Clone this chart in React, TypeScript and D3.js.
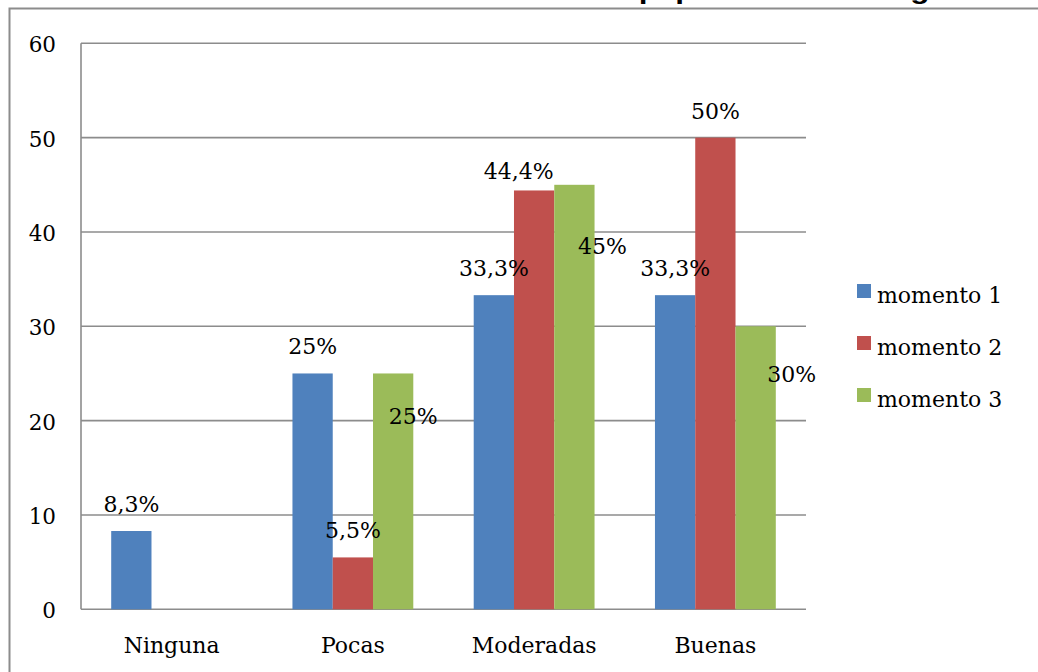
import React from "react";
import * as d3 from "d3";

const categories = ["Ninguna", "Pocas", "Moderadas", "Buenas"];
const seriesNames = ["momento 1", "momento 2", "momento 3"];
const momento1 = [8.3, 25, 33.3, 33.3];
const momento2 = [0, 5.5, 44.4, 50];
const momento3 = [0, 25, 45, 30];
const yTicks = [0, 10, 20, 30, 40, 50, 60];
const titleText = "Gráfica 3. Calidad Sentimientos del Equipo de Casa Amiga";

const seriesValues = [momento1, momento2, momento3];
const colors = ["#4F81BD", "#C0504D", "#9BBB59"];
// manual label nudges [dx, dy] per series / category (as placed in the original)
const labelNudges = [
  [[0, 0], [0, 0], [0, 0], [0, 0]],
  [[0, 0], [0, 0], [-15.5, 8], [0, 0]],
  [[0, 0], [20, 70], [28, 88], [36, 75]],
];

const W = 1038;
const H = 672;
const plot = { left: 81, right: 806, top: 43.3, bottom: 609.3 };
const FONT = "'DejaVu Serif', serif";
const GRID = "#8c8c8c";

const locale = d3.formatLocale({ decimal: ",", thousands: ".", grouping: [3], currency: ["", ""] });
const fmt = (v: number) => locale.format("~r")(v) + "%";

export default function App() {
  const x = d3.scaleBand<string>().domain(categories).range([plot.left, plot.right]).paddingInner(0).paddingOuter(0);
  const xs = d3.scaleBand<string>().domain(seriesNames).range([0, x.bandwidth()]).paddingInner(0).paddingOuter(0.75);
  const y = d3.scaleLinear().domain([0, 60]).range([plot.bottom, plot.top]);

  return (
    <svg width={W} height={H} style={{ position: "absolute", left: 0, top: 0, background: "#fff" }}>
      <rect x={0} y={0} width={W} height={H} fill="#fff" />
      <text x={72} y={-1.5} textLength={875} lengthAdjust="spacingAndGlyphs" fontFamily="'Liberation Sans', Arial, sans-serif" fontWeight="bold" fontSize={26} fill="#000">
        {titleText}
      </text>
      {/* outer frame */}
      <path d={`M9.5,${H + 2} V8.5 H${W + 2}`} fill="none" stroke={GRID} strokeWidth={2} />
      {/* gridlines */}
      {yTicks.map((t) => (
        <line key={t} x1={plot.left} x2={plot.right} y1={y(t)} y2={y(t)} stroke={GRID} strokeWidth={1.6} />
      ))}
      <line x1={plot.left} x2={plot.left} y1={plot.top} y2={plot.bottom} stroke={GRID} strokeWidth={1.6} />
      {/* y tick labels */}
      {yTicks.map((t) => (
        <text key={t} x={56} y={y(t) + 9} textAnchor="end" fontFamily={FONT} fontSize={21.5} fill="#000">
          {t}
        </text>
      ))}
      {/* bars */}
      {seriesValues.map((vals, si) =>
        vals.map((v, ci) => {
          if (v <= 0) return null;
          const bx = (x(categories[ci]) as number) + (xs(seriesNames[si]) as number);
          return (
            <rect key={`${si}-${ci}`} x={bx} y={y(v)} width={xs.bandwidth()} height={y(0) - y(v)} fill={colors[si]} />
          );
        })
      )}
      {/* data labels */}
      {seriesValues.map((vals, si) =>
        vals.map((v, ci) => {
          if (v <= 0) return null;
          const cx = (x(categories[ci]) as number) + (xs(seriesNames[si]) as number) + xs.bandwidth() / 2;
          const [dx, dy] = labelNudges[si][ci];
          return (
            <text key={`l${si}-${ci}`} x={cx + dx} y={y(v) - 19 + dy} textAnchor="middle" fontFamily={FONT} fontSize={22} fill="#000">
              {fmt(v)}
            </text>
          );
        })
      )}
      {/* x labels */}
      {categories.map((c) => (
        <text key={c} x={(x(c) as number) + x.bandwidth() / 2} y={653} textAnchor="middle" fontFamily={FONT} fontSize={22} fill="#000">
          {c}
        </text>
      ))}
      {/* legend */}
      {seriesNames.map((s, i) => (
        <g key={s} transform={`translate(857, ${284 + i * 52})`}>
          <rect x={0} y={0} width={14} height={14} fill={colors[i]} />
          <text x={20} y={18.5} fontFamily={FONT} fontSize={22} fill="#000">
            {s}
          </text>
        </g>
      ))}
    </svg>
  );
}
